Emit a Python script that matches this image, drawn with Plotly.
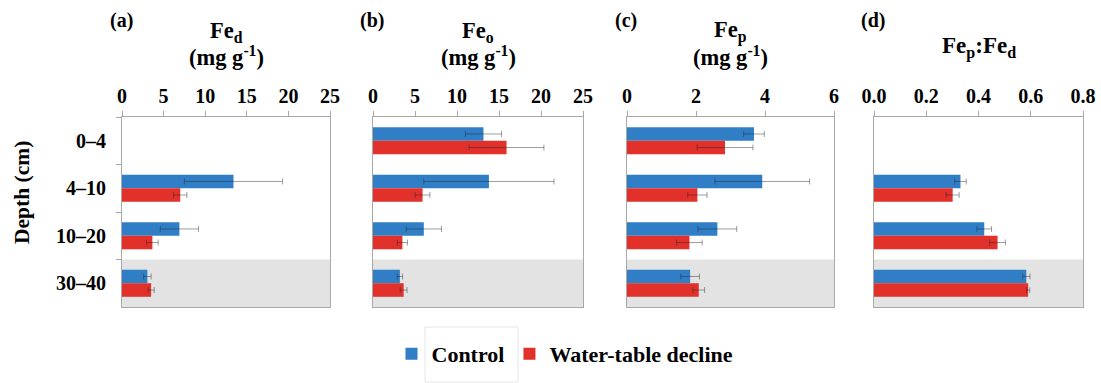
import plotly.graph_objects as go

W, H = 1101, 383

depths = ["0–4", "4–10", "10–20", "30–40"]
series_names = ["Control", "Water-table decline"]

fed_control = [None, 13.4, 6.9, 3.05]
fed_control_err = [None, 5.9, 2.3, 0.45]
fed_wtd = [None, 7.0, 3.65, 3.5]
fed_wtd_err = [None, 0.8, 0.7, 0.37]

feo_control = [13.15, 13.8, 6.05, 3.2]
feo_control_err = [2.15, 7.75, 2.1, 0.32]
feo_wtd = [15.9, 5.9, 3.5, 3.65]
feo_wtd_err = [4.45, 0.88, 0.6, 0.4]

fep_control = [3.68, 3.92, 2.62, 1.83]
fep_control_err = [0.30, 1.37, 0.56, 0.27]
fep_wtd = [2.84, 2.04, 1.81, 2.08]
fep_wtd_err = [0.81, 0.28, 0.37, 0.17]

ratio_control = [None, 0.331, 0.422, 0.583]
ratio_control_err = [None, 0.022, 0.028, 0.014]
ratio_wtd = [None, 0.301, 0.473, 0.590]
ratio_wtd_err = [None, 0.025, 0.030, 0.006]

panel_letters = ["(a)", "(b)", "(c)", "(d)"]
panel_titles = [["Fe<sub>d</sub>", "(mg g<sup>-1</sup>)"],
                ["Fe<sub>o</sub>", "(mg g<sup>-1</sup>)"],
                ["Fe<sub>p</sub>", "(mg g<sup>-1</sup>)"],
                ["Fe<sub>p</sub>:Fe<sub>d</sub>"]]
x_ranges = [[0, 25], [0, 25], [0, 6], [0, 0.8]]
x_tickvals = [[0, 5, 10, 15, 20, 25], [0, 5, 10, 15, 20, 25],
              [0, 2, 4, 6], [0, 0.2, 0.4, 0.6, 0.8]]
x_ticktext = [["0", "5", "10", "15", "20", "25"],
              ["0", "5", "10", "15", "20", "25"],
              ["0", "2", "4", "6"],
              ["0.0", "0.2", "0.4", "0.6", "0.8"]]

BLUE = "#2F7EC6"
RED = "#E2302B"
FONT = "'Times New Roman', 'Liberation Serif', 'DejaVu Serif', serif"
LINE = "#A8A8A8"
ERR = "rgba(40,40,40,0.45)"

panels = [
    (fed_control, fed_control_err, fed_wtd, fed_wtd_err),
    (feo_control, feo_control_err, feo_wtd, feo_wtd_err),
    (fep_control, fep_control_err, fep_wtd, fep_wtd_err),
    (ratio_control, ratio_control_err, ratio_wtd, ratio_wtd_err),
]

x_px = [(122, 330), (373, 583), (627, 834), (874, 1083)]
y_top, y_bot = 117, 307


def b(s):
    return f"<b>{s}</b>"


fig = go.Figure()
layout = dict(
    width=W, height=H, autosize=False,
    margin=dict(l=0, r=0, t=0, b=0, pad=0),
    paper_bgcolor="white", plot_bgcolor="white",
    barmode="group", bargap=0.43, bargroupgap=0.0,
    font=dict(family=FONT, color="black"),
    showlegend=True,
    legend=dict(orientation="h", x=565 / W, xanchor="center",
                y=1 - 354 / H, yanchor="middle",
                font=dict(family=FONT, size=22, color="black"),
                bgcolor="rgba(0,0,0,0)", traceorder="normal"),
    shapes=[], annotations=[],
)

for i, (c, ce, w, we) in enumerate(panels):
    n = i + 1
    xa = "x" if n == 1 else f"x{n}"
    ya = "y" if n == 1 else f"y{n}"
    fig.add_trace(go.Bar(
        y=depths, x=c, orientation="h", name=b(series_names[0]),
        marker=dict(color=BLUE, line=dict(width=0)),
        error_x=dict(type="data", array=ce, color=ERR, thickness=1, width=3),
        xaxis=xa, yaxis=ya, showlegend=(i == 0), legendgroup="c"))
    fig.add_trace(go.Bar(
        y=depths, x=w, orientation="h", name=b(series_names[1]),
        marker=dict(color=RED, line=dict(width=0)),
        error_x=dict(type="data", array=we, color=ERR, thickness=1, width=3),
        xaxis=xa, yaxis=ya, showlegend=(i == 0), legendgroup="w"))

    x0, x1 = x_px[i]
    xkey = "xaxis" if n == 1 else f"xaxis{n}"
    ykey = "yaxis" if n == 1 else f"yaxis{n}"
    layout[xkey] = dict(
        domain=[x0 / W, x1 / W], anchor=ya, side="top",
        range=x_ranges[i], tickmode="array", tickvals=x_tickvals[i],
        ticktext=[b(t) for t in x_ticktext[i]],
        showgrid=False, zeroline=False, showline=True, linecolor=LINE,
        linewidth=1, mirror=True, ticks="outside", ticklen=5, tickcolor=LINE,
        tickfont=dict(family=FONT, size=20, color="black"),
        fixedrange=True, automargin=False,
    )
    layout[ykey] = dict(
        domain=[1 - y_bot / H, 1 - y_top / H], anchor=xa,
        type="category", categoryorder="array", categoryarray=depths,
        autorange="reversed",
        tickmode="array", tickvals=depths, ticktext=[b(d) for d in depths],
        showgrid=False, zeroline=False, showline=True, linecolor=LINE,
        linewidth=1, mirror=True,
        ticks="outside" if n == 1 else "", ticklen=5, tickcolor=LINE,
        tickson="boundaries",
        showticklabels=(n == 1),
        tickfont=dict(family=FONT, size=20, color="black"),
        ticklabelstandoff=11,
        fixedrange=True, automargin=False,
    )
    layout["shapes"].append(dict(
        type="rect", xref=f"{xa} domain", yref=ya, x0=0, x1=1, y0=2.5, y1=3.5,
        fillcolor="#E3E3E3", line=dict(width=0), layer="below"))

    layout["annotations"].append(dict(
        text=b(panel_letters[i]), xref="paper", yref="paper",
        x=(x0 - 1) / W, y=1 - 20 / H, xanchor="center", yanchor="middle",
        showarrow=False, font=dict(family=FONT, size=20, color="black")))
    cx = (x0 + x1) / 2 / W
    t = panel_titles[i]
    if len(t) == 2:
        layout["annotations"].append(dict(
            text=b(t[0]), xref="paper", yref="paper", x=cx,
            y=1 - 32 / H, xanchor="center", yanchor="middle", showarrow=False,
            font=dict(family=FONT, size=22.5, color="black")))
        layout["annotations"].append(dict(
            text=b(t[1]), xref="paper", yref="paper", x=cx,
            y=1 - 56 / H, xanchor="center", yanchor="middle", showarrow=False,
            font=dict(family=FONT, size=22.5, color="black")))
    else:
        layout["annotations"].append(dict(
            text=b(t[0]), xref="paper", yref="paper", x=cx,
            y=1 - 47 / H, xanchor="center", yanchor="middle", showarrow=False,
            font=dict(family=FONT, size=23, color="black")))

layout["annotations"].append(dict(
    text=b("Depth (cm)"), xref="paper", yref="paper", x=22 / W,
    y=1 - 193 / H, xanchor="center", yanchor="middle", textangle=-90,
    showarrow=False, font=dict(family=FONT, size=21.5, color="black")))

layout["shapes"].append(dict(
    type="rect", xref="paper", yref="paper", x0=425 / W, x1=518 / W,
    y0=1 - 382 / H, y1=1 - 327 / H, line=dict(color="#E6E6E6", width=1),
    fillcolor="rgba(0,0,0,0)", layer="below"))

fig.update_layout(**layout)
fig.write_html("out.html")
